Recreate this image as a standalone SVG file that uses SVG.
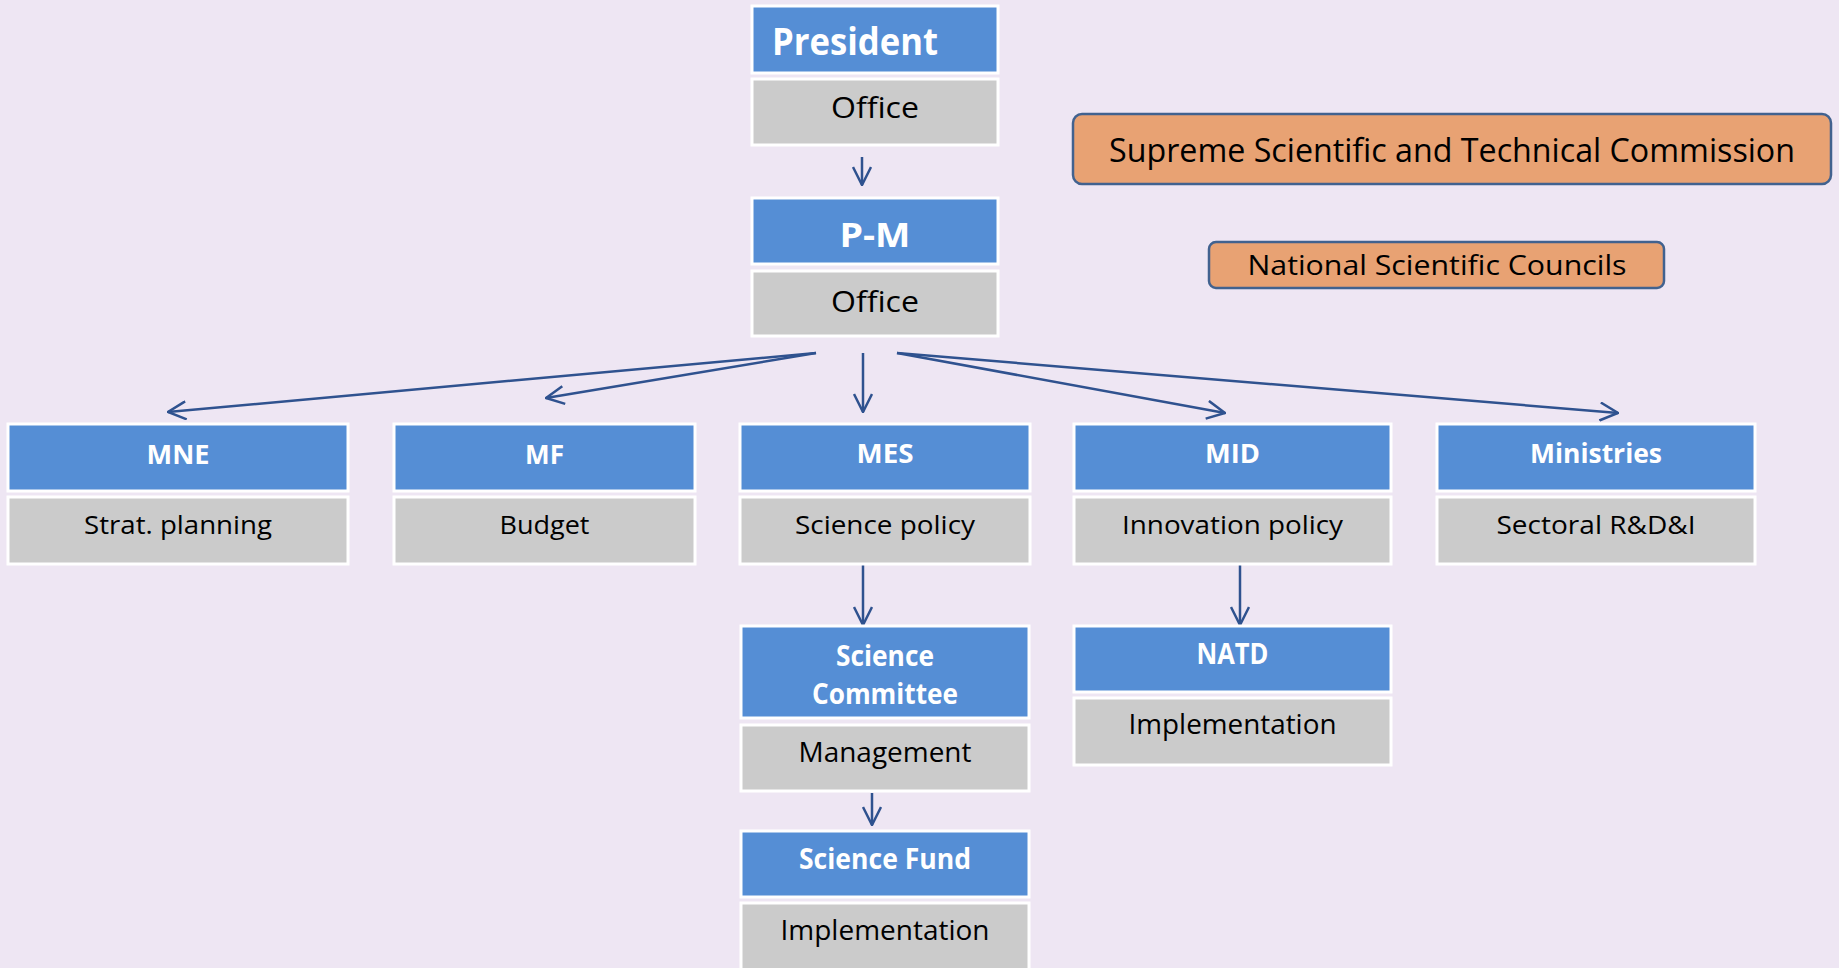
<svg xmlns="http://www.w3.org/2000/svg" width="1839" height="968" viewBox="0 0 1839 968">
<style>
.bg{fill:#EEE6F3}
.hd{fill:#558ED5;stroke:#FFFFFF;stroke-width:3}
.bd{fill:#CBCBCB;stroke:#FFFFFF;stroke-width:3}
.org{fill:#E8A273;stroke:#41628F;stroke-width:2.5}
.th{font-family:"Open Sans","Liberation Sans",sans-serif;font-weight:bold;fill:#FFFFFF;font-size:26px;text-anchor:middle}
.tb{font-family:"Open Sans","Liberation Sans",sans-serif;fill:#000000;font-size:26px;text-anchor:middle}
.cn{fill:none;stroke:#2F528F;stroke-width:2.5}
</style>
<defs>
<marker id="ah" viewBox="0 0 20 20" refX="19" refY="10" markerWidth="20" markerHeight="20" markerUnits="userSpaceOnUse" orient="auto">
<path d="M1,1 L19,10 L1,19" fill="none" stroke="#2F528F" stroke-width="2.5"/>
</marker>
</defs>
<rect class="bg" x="0" y="0" width="1839" height="968"/>

<g id="connectors">
<line class="cn" x1="862" y1="157" x2="862" y2="185" marker-end="url(#ah)"/>
<line class="cn" x1="816" y1="353" x2="168" y2="412" marker-end="url(#ah)"/>
<line class="cn" x1="816" y1="353" x2="546" y2="398" marker-end="url(#ah)"/>
<line class="cn" x1="863" y1="353" x2="863" y2="412" marker-end="url(#ah)"/>
<line class="cn" x1="897" y1="353" x2="1225" y2="413" marker-end="url(#ah)"/>
<line class="cn" x1="897" y1="353" x2="1618" y2="413" marker-end="url(#ah)"/>
<line class="cn" x1="863" y1="565" x2="863" y2="625" marker-end="url(#ah)"/>
<line class="cn" x1="1240" y1="565" x2="1240" y2="625" marker-end="url(#ah)"/>
<line class="cn" x1="872" y1="793" x2="872" y2="825" marker-end="url(#ah)"/>
</g>

<g id="president">
<rect class="hd" x="752" y="6" width="246" height="67"/>
<rect class="bd" x="752" y="79" width="246" height="66"/>
<text class="th" x="772" y="55" style="text-anchor:start;font-size:37px" textLength="166" lengthAdjust="spacingAndGlyphs">President</text>
<text class="tb" x="875" y="118" style="font-size:30px" textLength="88" lengthAdjust="spacingAndGlyphs">Office</text>
</g>

<g id="pm">
<rect class="hd" x="752" y="198" width="246" height="66"/>
<rect class="bd" x="752" y="271" width="246" height="65"/>
<text class="th" x="875" y="247" style="font-size:34px" textLength="71" lengthAdjust="spacingAndGlyphs">P-M</text>
<text class="tb" x="875" y="312" style="font-size:30px" textLength="88" lengthAdjust="spacingAndGlyphs">Office</text>
</g>

<g id="supreme">
<rect class="org" x="1073" y="114" width="758" height="70" rx="9"/>
<text class="tb" x="1452" y="162" style="font-size:32px" textLength="686" lengthAdjust="spacingAndGlyphs">Supreme Scientific and Technical Commission</text>
</g>

<g id="councils">
<rect class="org" x="1209" y="242" width="455" height="46" rx="7"/>
<text class="tb" x="1437" y="275" style="font-size:28px" textLength="379" lengthAdjust="spacingAndGlyphs">National Scientific Councils</text>
</g>

<g id="mne">
<rect class="hd" x="8" y="424" width="340" height="67"/>
<rect class="bd" x="8" y="497" width="340" height="67"/>
<text class="th" x="178" y="464" textLength="63" lengthAdjust="spacingAndGlyphs">MNE</text>
<text class="tb" x="178" y="534" textLength="188" lengthAdjust="spacingAndGlyphs">Strat. planning</text>
</g>

<g id="mf">
<rect class="hd" x="394" y="424" width="301" height="67"/>
<rect class="bd" x="394" y="497" width="301" height="67"/>
<text class="th" x="544.5" y="464" textLength="39" lengthAdjust="spacingAndGlyphs">MF</text>
<text class="tb" x="544.5" y="534" textLength="90" lengthAdjust="spacingAndGlyphs">Budget</text>
</g>

<g id="mes">
<rect class="hd" x="740" y="424" width="290" height="67"/>
<rect class="bd" x="740" y="497" width="290" height="67"/>
<text class="th" x="885" y="463" textLength="57" lengthAdjust="spacingAndGlyphs">MES</text>
<text class="tb" x="885" y="534" textLength="180" lengthAdjust="spacingAndGlyphs">Science policy</text>
</g>

<g id="mid">
<rect class="hd" x="1074" y="424" width="317" height="67"/>
<rect class="bd" x="1074" y="497" width="317" height="67"/>
<text class="th" x="1232.5" y="463" textLength="55" lengthAdjust="spacingAndGlyphs">MID</text>
<text class="tb" x="1232.5" y="534" textLength="221" lengthAdjust="spacingAndGlyphs">Innovation policy</text>
</g>

<g id="ministries">
<rect class="hd" x="1437" y="424" width="318" height="67"/>
<rect class="bd" x="1437" y="497" width="318" height="67"/>
<text class="th" x="1596" y="463" textLength="132" lengthAdjust="spacingAndGlyphs">Ministries</text>
<text class="tb" x="1596" y="534" textLength="199" lengthAdjust="spacingAndGlyphs">Sectoral R&amp;D&amp;I</text>
</g>

<g id="science-committee">
<rect class="hd" x="741" y="626" width="288" height="92"/>
<rect class="bd" x="741" y="725" width="288" height="66"/>
<text class="th" x="885" y="666" style="font-size:28px" textLength="98" lengthAdjust="spacingAndGlyphs">Science</text>
<text class="th" x="885" y="704" style="font-size:28px" textLength="146" lengthAdjust="spacingAndGlyphs">Committee</text>
<text class="tb" x="885" y="762" style="font-size:27px" textLength="173" lengthAdjust="spacingAndGlyphs">Management</text>
</g>

<g id="science-fund">
<rect class="hd" x="741" y="831" width="288" height="66"/>
<rect class="bd" x="741" y="903" width="288" height="72"/>
<text class="th" x="885" y="869" style="font-size:28px" textLength="172" lengthAdjust="spacingAndGlyphs">Science Fund</text>
<text class="tb" x="885" y="940" style="font-size:27px" textLength="209" lengthAdjust="spacingAndGlyphs">Implementation</text>
</g>

<g id="natd">
<rect class="hd" x="1074" y="626" width="317" height="66"/>
<rect class="bd" x="1074" y="698" width="317" height="67"/>
<text class="th" x="1232.5" y="664" style="font-size:28px" textLength="72" lengthAdjust="spacingAndGlyphs">NATD</text>
<text class="tb" x="1232.5" y="734" style="font-size:27px" textLength="208" lengthAdjust="spacingAndGlyphs">Implementation</text>
</g>
</svg>
